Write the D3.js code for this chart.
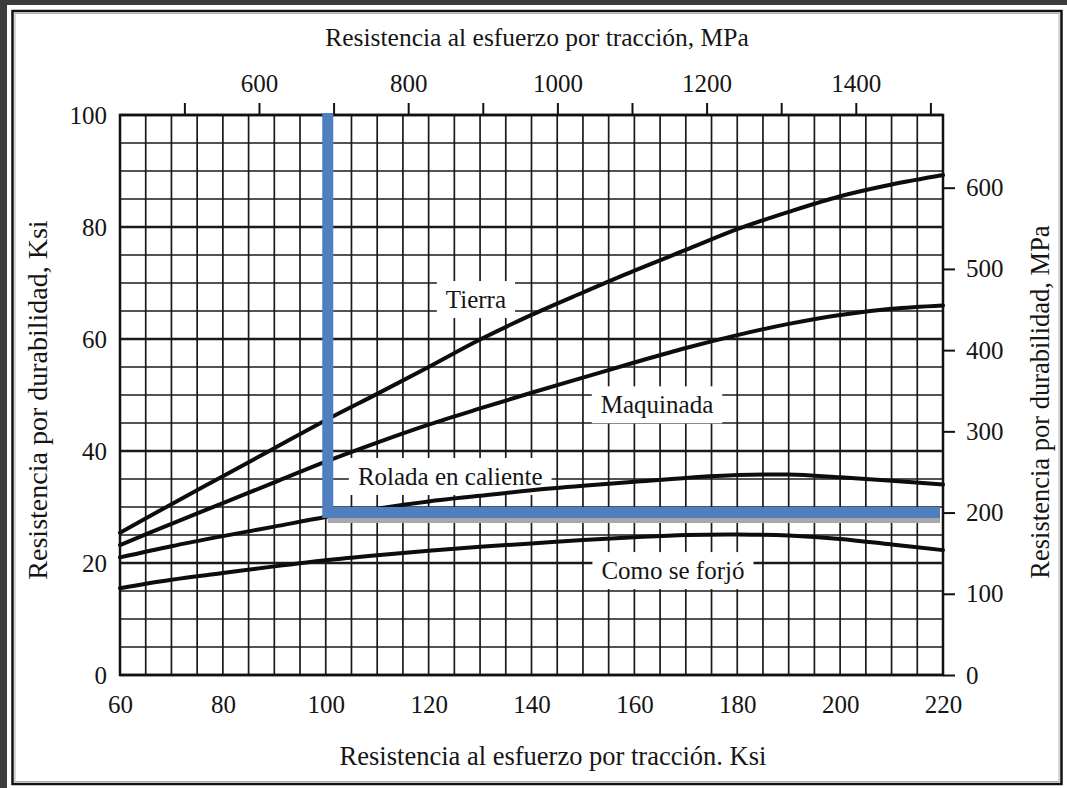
<!DOCTYPE html>
<html>
<head>
<meta charset="utf-8">
<script src="https://cdn.jsdelivr.net/npm/d3@7/dist/d3.min.js"></script>
<style>
    body { margin: 0; background: #3b3b3b; }
    svg { display: block; }
    text { font-family: 'Liberation Serif', 'Times New Roman', serif; fill: #151515; }
</style>
</head>
<body>
<svg id="chart" width="1067" height="788"></svg>
<script>
// tensile strength (ksi) at which the curves were read
const tensileKsi = [60, 70, 80, 90, 100, 110, 120, 130, 140, 150, 160, 170, 180, 190, 200, 210, 220]

// endurance strength (ksi) per surface finish
const tierra = [25.4, 30.5, 35.5, 40.5, 45.5, 50.2, 55, 59.9, 64.3, 68.3, 72.2, 75.9, 79.6, 82.7, 85.5, 87.6, 89.3]
const maquinada = [23.2, 27, 30.7, 34.4, 38.1, 41.5, 44.7, 47.6, 50.4, 53.1, 55.8, 58.4, 60.7, 62.7, 64.3, 65.4, 66]
const roladaCaliente = [21, 23, 24.8, 26.5, 28.2, 29.7, 31, 32, 33, 33.8, 34.5, 35.2, 35.7, 35.8, 35.3, 34.7, 34]
const comoSeForjo = [15.5, 17, 18.2, 19.4, 20.5, 21.4, 22.2, 22.9, 23.5, 24.1, 24.6, 25, 25.1, 24.9, 24.3, 23.3, 22.3]

const seriesNames = ['Tierra', 'Maquinada', 'Rolada en caliente', 'Como se forjó']

const leftTicks = [0, 20, 40, 60, 80, 100]
const bottomTicks = [60, 80, 100, 120, 140, 160, 180, 200, 220]
const topTicks = [500, 600, 700, 800, 900, 1000, 1100, 1200, 1300, 1400, 1500]
const topTickLabels = [600, 800, 1000, 1200, 1400]
const rightTicks = [0, 100, 200, 300, 400, 500, 600]

// highlighted reading: 100 ksi tensile -> 200 MPa endurance
const markKsi = 100
const markMpa = 200

const KSI_TO_MPA = 6.895

const svg = d3.select('#chart')

const x = d3.scaleLinear().domain([60, 220]).range([120, 943])
const y = d3.scaleLinear().domain([0, 100]).range([675, 115])
const xMpa = d3.scaleLinear().domain([60 * KSI_TO_MPA, 220 * KSI_TO_MPA]).range(x.range())
const yMpa = d3.scaleLinear().domain([0, 100 * KSI_TO_MPA]).range(y.range())

// page + frame
svg.append('rect').attr('x', 7).attr('y', 5).attr('width', 1060).attr('height', 783).attr('fill', '#fff')
svg.append('rect').attr('x', 12.5).attr('y', 11).attr('width', 1049).attr('height', 773)
    .attr('fill', 'none').attr('stroke', '#111').attr('stroke-width', 2.5)
svg.append('rect').attr('x', 15).attr('y', 13.5).attr('width', 1044).attr('height', 768)
    .attr('fill', 'none').attr('stroke', '#999').attr('stroke-width', 0.8)

// grid, every 5 ksi
const grid = svg.append('g').attr('stroke', '#1a1a1a')
grid.selectAll('.vgrid')
    .data(d3.range(60, 221, 5))
    .enter().append('line')
    .attr('x1', d => x(d)).attr('x2', d => x(d))
    .attr('y1', y(0)).attr('y2', y(100))
    .attr('stroke-width', 1.7)
grid.selectAll('.hgrid')
    .data(d3.range(0, 101, 5))
    .enter().append('line')
    .attr('x1', x(60)).attr('x2', x(220))
    .attr('y1', d => y(d)).attr('y2', d => y(d))
    .attr('stroke-width', d => d % 20 === 0 ? 2.4 : 1.7)

// plot border
svg.append('rect')
    .attr('x', x(60)).attr('y', y(100))
    .attr('width', x(220) - x(60)).attr('height', y(0) - y(100))
    .attr('fill', 'none').attr('stroke', '#111').attr('stroke-width', 2.5)

// curve labels sit on white patches that hide the grid
const labelSpots = [
    { name: seriesNames[0], kx: 129.2, ky: 67 },
    { name: seriesNames[1], kx: 164.4, ky: 48.2 },
    { name: seriesNames[2], kx: 124.2, ky: 35.4 },
    { name: seriesNames[3], kx: 167.5, ky: 18.6 }
]
const labels = svg.append('g')
labelSpots.forEach(l => {
    const g = labels.append('g')
    const t = g.append('text')
        .attr('x', x(l.kx)).attr('y', y(l.ky))
        .attr('text-anchor', 'middle')
        .attr('dy', '.33em')
        .style('font-size', '25px')
        .text(l.name)
    const b = t.node().getBBox()
    g.insert('rect', 'text')
        .attr('x', b.x - 9).attr('y', b.y - 5)
        .attr('width', b.width + 18).attr('height', b.height + 10)
        .attr('fill', '#fff')
})

// curves
const line = d3.line()
    .x((d, i) => x(tensileKsi[i]))
    .y(d => y(d))
    .curve(d3.curveCatmullRom)
svg.append('g').selectAll('.curve')
    .data([tierra, maquinada, roladaCaliente, comoSeForjo])
    .enter().append('path')
    .attr('class', 'curve')
    .attr('d', line)
    .attr('fill', 'none')
    .attr('stroke', '#0d0d0d')
    .attr('stroke-width', 4)
    .attr('stroke-linecap', 'round')

// axes
function styleAxis(g) {
    g.select('.domain').remove()
    g.selectAll('text').style('font-size', '25px').attr('fill', '#151515')
    g.selectAll('line').attr('stroke', '#111').attr('stroke-width', 2)
}
svg.append('g')
    .attr('transform', 'translate(' + x(60) + ',0)')
    .call(d3.axisLeft(y).tickValues(leftTicks).tickSize(0).tickPadding(13))
    .call(styleAxis)
svg.append('g')
    .attr('transform', 'translate(0,' + y(0) + ')')
    .call(d3.axisBottom(x).tickValues(bottomTicks).tickSize(0).tickPadding(20))
    .call(styleAxis)
svg.append('g')
    .attr('transform', 'translate(0,' + y(100) + ')')
    .call(d3.axisTop(xMpa).tickValues(topTicks).tickSize(12).tickPadding(11)
        .tickFormat(d => topTickLabels.includes(d) ? d : ''))
    .call(styleAxis)
svg.append('g')
    .attr('transform', 'translate(' + x(220) + ',0)')
    .call(d3.axisRight(yMpa).tickValues(rightTicks).tickSize(12).tickPadding(11))
    .call(styleAxis)

// axis titles
svg.append('text')
    .attr('x', 537).attr('y', 46)
    .attr('text-anchor', 'middle')
    .style('font-size', '25.5px')
    .text('Resistencia al esfuerzo por tracción, MPa')
svg.append('text')
    .attr('x', 553).attr('y', 765)
    .attr('text-anchor', 'middle')
    .style('font-size', '26.5px')
    .text('Resistencia al esfuerzo por tracción. Ksi')
svg.append('text')
    .attr('transform', 'translate(47,400) rotate(-90)')
    .attr('text-anchor', 'middle')
    .style('font-size', '28px')
    .text('Resistencia por durabilidad, Ksi')
svg.append('text')
    .attr('transform', 'translate(1049,402) rotate(-90)')
    .attr('text-anchor', 'middle')
    .style('font-size', '26.5px')
    .text('Resistencia por durabilidad, MPa')

// highlighted reading
const markX = x(markKsi) + 2
const markY = yMpa(markMpa)
const markEnd = x.range()[1] - 3
svg.append('line')
    .attr('x1', markX).attr('x2', markEnd)
    .attr('y1', markY + 8).attr('y2', markY + 8)
    .attr('stroke', '#a8a8a8').attr('stroke-width', 5)
svg.append('path')
    .attr('d', 'M' + markX + ',' + (y(100) - 2) + 'V' + markY + 'H' + markEnd)
    .attr('fill', 'none')
    .attr('stroke', '#4f7fbf')
    .attr('stroke-width', 11)
    .attr('stroke-linejoin', 'miter')
</script>
</body>
</html>
